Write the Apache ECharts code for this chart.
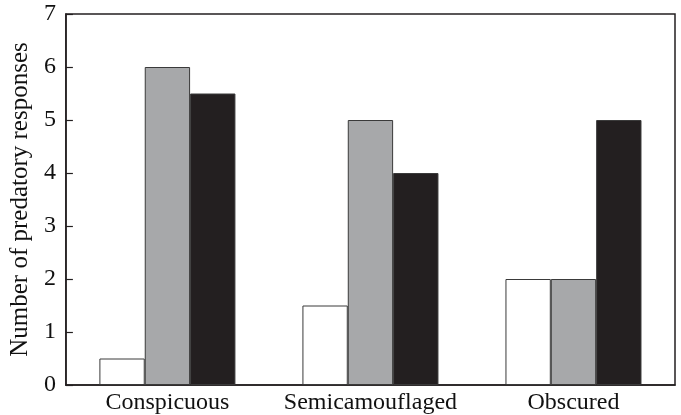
<!DOCTYPE html>
<html>
<head>
<meta charset="utf-8">
<script src="https://cdn.jsdelivr.net/npm/echarts@6/dist/echarts.min.js"></script>
<style>
  html, body { margin: 0; padding: 0; background: #fff; }
  #chart { width: 681px; height: 415px; }
</style>
</head>
<body>
<div id="chart"></div>
<script>
// Prey categories along the x axis
const categories = ['Conspicuous', 'Semicamouflaged', 'Obscured'];
// Responses per treatment (white, grey, black bars)
const whiteValues = [0.5, 1.5, 2];
const greyValues = [6, 5, 2];
const blackValues = [5.5, 4, 5];
const yTicks = [0, 1, 2, 3, 4, 5, 6, 7];

const font = '"Liberation Serif", "DejaVu Serif", serif';
const edge = '#3a3a3a';

function barSeries(name, values, color) {
  return {
    name: name,
    type: 'bar',
    data: values,
    barGap: '0%',
    barCategoryGap: '33%',
    itemStyle: { color: color, borderColor: edge, borderWidth: 1 },
    emphasis: { disabled: true }
  };
}

const chart = echarts.init(document.getElementById('chart'));
chart.setOption({
  animation: false,
  backgroundColor: '#fff',
  grid: {
    left: 65, right: 6, top: 14, bottom: 30,
    show: true, borderColor: '#231f20', borderWidth: 1.5,
    containLabel: false
  },
  xAxis: {
    type: 'category',
    data: categories,
    axisLine: { lineStyle: { color: '#231f20', width: 1.5 } },
    axisTick: { show: false },
    axisLabel: {
      color: '#111', fontFamily: font, fontSize: 24, margin: 6,
      interval: 0, hideOverlap: false
    }
  },
  yAxis: {
    type: 'value',
    min: yTicks[0],
    max: yTicks[yTicks.length - 1],
    interval: 1,
    name: 'Number of predatory responses',
    nameLocation: 'middle',
    nameGap: 31,
    nameTextStyle: { color: '#111', fontFamily: font, fontSize: 25 },
    splitLine: { show: false },
    axisLine: { show: true, lineStyle: { color: '#231f20', width: 1.5 } },
    axisTick: { show: true, inside: true, length: 7, lineStyle: { color: '#231f20', width: 1.2 } },
    axisLabel: { color: '#111', fontFamily: font, fontSize: 24, margin: 10 }
  },
  series: [
    barSeries('White', whiteValues, '#ffffff'),
    barSeries('Grey', greyValues, '#a7a8aa'),
    barSeries('Black', blackValues, '#231f20')
  ]
});
</script>
</body>
</html>
